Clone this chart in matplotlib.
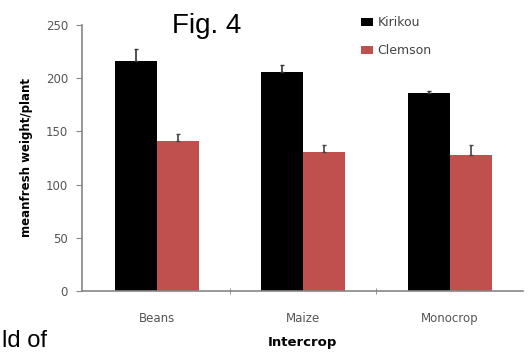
import numpy as np
import matplotlib.pyplot as plt

# Mean fresh weight per plant by intercrop
categories = ['Beans', 'Maize', 'Monocrop']
kirikou = [216, 206, 186]
kirikou_err = [11, 6, 2]
clemson = [141, 131, 128]
clemson_err = [7, 6, 9]

fig = plt.figure(figsize=(5.31, 3.52), dpi=100)
ax = fig.add_axes([0.1544, 0.1733, 0.8305, 0.7557])

x = np.arange(len(categories))
w = 0.287
grey = '#868686'
red = '#C0504D'

ax.bar(x - w / 2, kirikou, w, color='black', label='Kirikou',
       yerr=[np.zeros(3), kirikou_err], error_kw=dict(ecolor='#333333', elinewidth=1.2, capsize=1.5))
ax.bar(x + w / 2, clemson, w, color=red, label='Clemson',
       yerr=[np.zeros(3), clemson_err], error_kw=dict(ecolor='#444444', elinewidth=1.2, capsize=1.5))

ax.set_xlim(-0.51, 2.5)
ax.set_ylim(0, 250)
ax.set_yticks([0, 50, 100, 150, 200, 250])
ax.set_xticks(x)
ax.set_xticklabels(categories)
ax.set_xticks([0.5, 1.5], minor=True)
ax.tick_params(axis='x', which='major', length=0, pad=15, labelsize=8.5, labelcolor='#555555')
ax.tick_params(axis='x', which='minor', length=4, color=grey, direction='inout')
ax.tick_params(axis='y', length=4, color=grey, labelsize=8.5, labelcolor='#555555', pad=6)

for s in ['top', 'right']:
    ax.spines[s].set_visible(False)
for s in ['left', 'bottom']:
    ax.spines[s].set_color(grey)
    ax.spines[s].set_linewidth(1.2)

ax.set_ylabel('meanfresh weight/plant', fontsize=8.5, fontweight='bold', labelpad=9)
ax.set_xlabel('Intercrop', fontsize=9.5, fontweight='bold', labelpad=8)

ax.legend(loc='upper left', bbox_to_anchor=(0.608, 1.075), frameon=False, fontsize=9,
          handlelength=0.9, handleheight=0.7, handletextpad=0.4, labelspacing=1.2,
          labelcolor='#444444')

fig.text(0.324, 0.925, 'Fig. 4', fontsize=20, family='Liberation Sans', va='center')
fig.text(0.003, 0.03, 'ld of', fontsize=17, family='Liberation Sans', va='center')

fig.savefig('out.png', dpi=100)
